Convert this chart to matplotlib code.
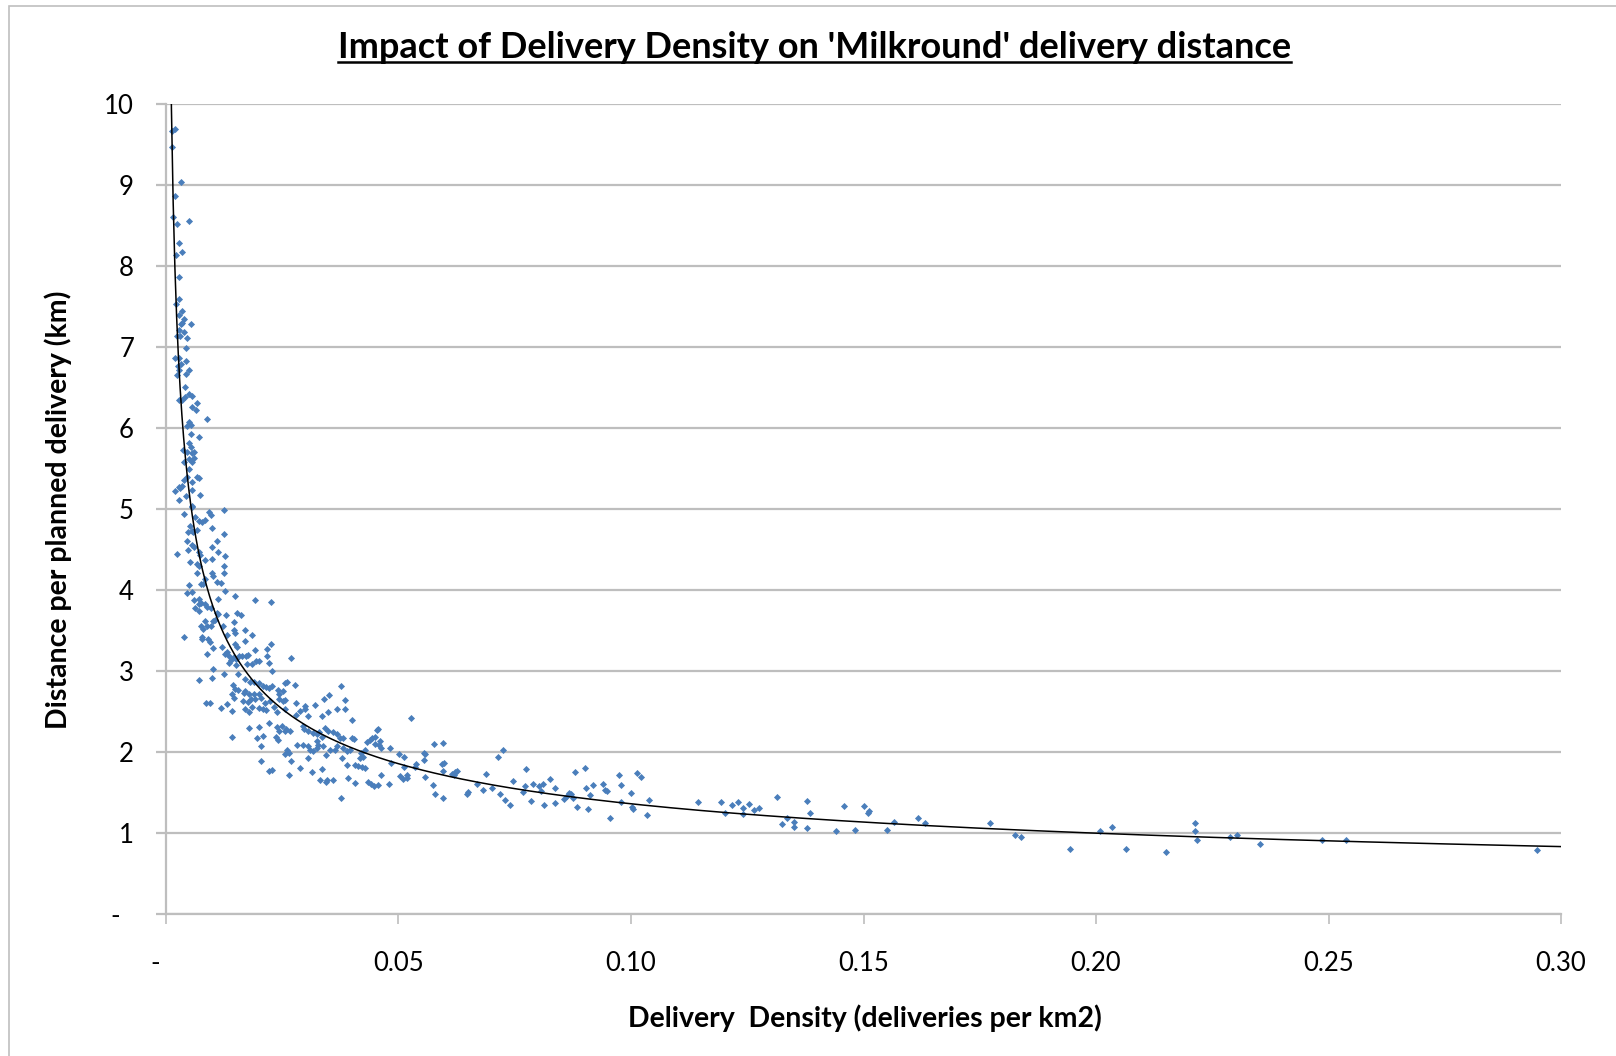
import numpy as np
import matplotlib
matplotlib.use("Agg")
import matplotlib.pyplot as plt
from matplotlib.lines import Line2D
from matplotlib.patches import Rectangle

plt.rcParams['font.family'] = ['Lato', 'DejaVu Sans']

# points: (deliveries per km2, km per planned delivery)
points = [
    # steep part, x < 0.01
    (.0014, 9.67), (.0020, 9.69), (.0012, 9.47), (.0032, 9.04), (.0020, 8.87), (.0016, 8.61),
    (.0023, 8.52), (.0049, 8.55), (.0027, 8.28), (.0035, 8.17), (.0022, 8.13), (.0029, 7.86),
    (.0029, 7.59), (.0022, 7.53), (.0034, 7.45), (.0029, 7.39), (.0039, 7.34), (.0035, 7.30),
    (.0032, 7.29), (.0054, 7.28), (.0027, 7.21), (.0039, 7.18), (.0023, 7.14), (.0030, 7.13),
    (.0046, 7.11), (.0043, 6.99), (.0019, 6.86), (.0029, 6.86), (.0043, 6.83), (.0026, 6.76),
    (.0032, 6.79), (.0027, 6.71), (.0050, 6.71), (.0043, 6.67), (.0024, 6.65), (.0040, 6.51),
    (.0049, 6.42), (.0056, 6.39), (.0027, 6.35), (.0034, 6.35), (.0040, 6.38), (.0067, 6.31),
    (.0057, 6.26), (.0065, 6.22), (.0089, 6.11),
    (.0050, 6.07), (.0053, 6.04), (.0046, 6.02), (.0053, 5.93), (.0070, 5.89), (.0050, 5.81),
    (.0053, 5.77), (.0036, 5.73), (.0046, 5.70), (.0056, 5.69), (.0060, 5.70), (.0038, 5.58),
    (.0050, 5.62), (.0061, 5.63), (.0057, 5.58), (.0049, 5.49), (.0045, 5.40), (.0038, 5.36),
    (.0066, 5.40), (.0071, 5.38), (.0034, 5.29), (.0030, 5.26), (.0020, 5.22), (.0027, 5.27),
    (.0057, 5.33), (.0055, 5.24), (.0044, 5.16), (.0029, 5.11), (.0073, 5.17), (.0055, 5.03),
    (.0057, 5.04), (.0039, 4.94), (.0125, 4.99), (.0096, 4.93), (.0093, 4.96), (.0063, 4.90),
    (.0070, 4.85), (.0077, 4.84), (.0084, 4.86), (.0051, 4.79), (.0055, 4.73), (.0048, 4.72),
    (.0059, 4.71), (.0099, 4.76), (.0066, 4.74), (.0125, 4.69), (.0045, 4.60), (.0055, 4.55),
    (.0060, 4.53), (.0109, 4.61), (.0099, 4.53), (.0111, 4.47), (.0023, 4.45), (.0048, 4.49),
    (.0071, 4.47), (.0073, 4.43), (.0126, 4.42), (.0051, 4.34), (.0084, 4.37), (.0098, 4.38),
    (.0066, 4.32), (.0071, 4.29), (.0125, 4.29), (.0125, 4.21), (.0098, 4.21), (.0102, 4.17),
    (.0066, 4.21), (.0076, 4.07), (.0080, 4.08), (.0085, 4.13), (.0109, 4.10), (.0118, 4.09),
    (.0049, 4.06), (.0046, 3.96), (.0057, 3.97), (.0126, 3.99), (.0060, 3.88), (.0070, 3.89),
    (.0071, 3.83), (.0076, 3.84), (.0149, 3.92), (.0192, 3.88), (.0226, 3.85), (.0063, 3.78),
    (.0071, 3.74), (.0085, 3.83), (.0089, 3.79), (.0097, 3.78), (.0112, 3.89), (.0109, 3.72),
    (.0111, 3.70), (.0153, 3.72), (.0161, 3.69), (.0130, 3.69), (.0083, 3.62), (.0101, 3.62),
    (.0105, 3.63), (.0146, 3.61), (.0076, 3.55), (.0080, 3.52), (.0089, 3.55), (.0096, 3.55),
    (.0122, 3.56), (.0169, 3.51), (.0146, 3.50), (.0148, 3.47), (.0131, 3.45), (.0078, 3.42),
    (.0077, 3.40), (.0039, 3.42), (.0185, 3.44), (.0091, 3.40), (.0094, 3.36), (.0102, 3.28),
    (.0120, 3.30), (.0131, 3.23), (.0149, 3.33), (.0153, 3.29), (.0169, 3.37), (.0088, 3.21),
    (.0127, 3.21), (.0135, 3.18), (.0139, 3.14), (.0136, 3.10), (.0147, 3.17), (.0151, 3.15),
    (.0158, 3.18), (.0163, 3.18), (.0173, 3.18), (.0177, 3.20), (.0191, 3.26), (.0218, 3.27),
    (.0225, 3.33), (.0269, 3.16), (.0174, 3.09), (.0185, 3.09), (.0193, 3.12), (.0201, 3.12),
    (.0218, 3.18), (.0221, 3.10), (.0150, 3.07), (.0102, 3.03), (.0228, 3.00), (.0100, 2.91),
    (.0125, 2.96), (.0071, 2.89), (.0155, 2.96), (.0171, 2.90), (.0181, 2.86), (.0189, 2.86),
    (.0145, 2.83), (.0148, 2.78), (.0154, 2.77), (.0199, 2.85), (.0209, 2.82), (.0215, 2.80),
    (.0222, 2.79), (.0228, 2.82), (.0257, 2.85), (.0261, 2.87), (.0277, 2.83), (.0167, 2.73),
    (.0171, 2.75), (.0178, 2.71), (.0190, 2.72), (.0199, 2.72), (.0241, 2.77), (.0243, 2.72),
    (.0251, 2.75), (.0143, 2.71), (.0147, 2.67), (.0087, 2.61), (.0094, 2.61), (.0166, 2.63),
    (.0177, 2.62), (.0182, 2.65), (.0191, 2.65), (.0205, 2.67), (.0213, 2.61), (.0223, 2.63),
    (.0243, 2.66), (.0251, 2.63), (.0255, 2.64), (.0279, 2.60), (.0300, 2.57), (.0320, 2.58),
    (.0340, 2.65), (.0350, 2.70), (.0376, 2.81), (.0386, 2.64), (.0386, 2.53), (.0118, 2.54),
    (.0131, 2.59), (.0141, 2.50), (.0171, 2.53), (.0178, 2.49), (.0186, 2.56), (.0199, 2.54),
    (.0209, 2.53), (.0215, 2.52), (.0233, 2.56), (.0239, 2.49), (.0256, 2.53), (.0280, 2.46),
    (.0289, 2.50), (.0298, 2.53), (.0306, 2.45), (.0335, 2.44), (.0349, 2.49), (.0367, 2.53),
    # 0.015 - 0.03 below 2.4
    (.0179, 2.30), (.0201, 2.31), (.0222, 2.36), (.0143, 2.19), (.0196, 2.17), (.0209, 2.20),
    (.0239, 2.31), (.0249, 2.32), (.0244, 2.26), (.0255, 2.26), (.0267, 2.26), (.0258, 2.28),
    (.0237, 2.19), (.0240, 2.15), (.0204, 2.07), (.0281, 2.09), (.0261, 2.03), (.0265, 1.99),
    (.0257, 1.97), (.0204, 1.89), (.0269, 1.89), (.0222, 1.77), (.0229, 1.78), (.0264, 1.71),
    # 0.03 - 0.12
    (.0297, 2.28), (.0305, 2.26), (.0294, 2.32), (.0317, 2.24), (.0324, 2.22), (.0330, 2.25),
    (.0335, 2.19), (.0325, 2.14), (.0343, 2.29), (.0348, 2.26), (.0360, 2.25), (.0367, 2.22),
    (.0374, 2.17), (.0381, 2.17), (.0295, 2.08), (.0305, 2.07), (.0310, 2.03), (.0317, 2.01),
    (.0324, 2.05), (.0328, 2.08), (.0338, 2.07), (.0345, 1.96), (.0353, 2.03), (.0364, 2.03),
    (.0368, 2.07), (.0380, 2.05), (.0389, 2.01), (.0396, 2.03), (.0288, 1.80), (.0305, 1.93),
    (.0314, 1.75), (.0335, 1.79), (.0331, 1.66), (.0344, 1.63), (.0347, 1.65), (.0360, 1.66),
    (.0376, 1.43), (.0378, 1.92), (.0389, 1.84), (.0391, 1.68), (.0406, 1.62),
    (.0401, 2.39), (.0401, 2.17), (.0404, 2.16), (.0420, 1.99), (.0417, 1.92), (.0424, 1.94),
    (.0427, 2.02), (.0432, 2.12), (.0439, 2.15), (.0442, 2.17), (.0453, 2.27), (.0456, 2.28),
    (.0450, 2.18), (.0407, 1.84), (.0414, 1.83), (.0422, 1.81), (.0428, 1.80), (.0434, 1.63),
    (.0440, 1.61), (.0447, 1.58), (.0457, 1.59), (.0463, 1.71), (.0450, 2.10), (.0459, 2.09),
    (.0463, 2.05), (.0460, 2.13), (.0482, 2.05), (.0479, 1.61), (.0502, 1.98), (.0512, 1.94),
    (.0503, 1.70), (.0510, 1.67), (.0518, 1.68), (.0519, 1.71), (.0483, 1.87), (.0512, 1.81),
    (.0527, 2.42), (.0538, 1.85), (.0536, 1.81), (.0554, 1.99), (.0558, 1.97), (.0555, 1.90),
    (.0558, 1.69), (.0575, 1.59), (.0579, 1.48), (.0576, 2.10), (.0595, 2.11), (.0594, 1.85),
    (.0598, 1.86), (.0596, 1.76), (.0595, 1.43), (.0615, 1.73), (.0622, 1.75), (.0625, 1.76),
    (.0619, 1.71), (.0647, 1.48), (.0649, 1.50), (.0669, 1.61), (.0682, 1.53), (.0689, 1.73),
    (.0701, 1.56), (.0715, 1.94), (.0725, 2.03), (.0718, 1.48), (.0730, 1.41), (.0740, 1.34),
    (.0747, 1.64), (.0767, 1.50), (.0775, 1.79), (.0773, 1.58), (.0786, 1.39), (.0790, 1.60),
    (.0803, 1.58), (.0806, 1.52), (.0811, 1.61), (.0814, 1.35), (.0826, 1.67), (.0837, 1.55),
    (.0837, 1.37), (.0857, 1.42), (.0862, 1.46), (.0866, 1.49), (.0872, 1.48), (.0876, 1.43),
    (.0879, 1.75), (.0883, 1.32), (.0902, 1.80), (.0903, 1.55), (.0908, 1.29), (.0912, 1.47),
    (.0918, 1.59), (.0939, 1.60), (.0945, 1.53), (.0948, 1.52), (.0955, 1.19), (.0974, 1.71),
    (.0978, 1.59), (.0979, 1.38), (.0999, 1.49), (.1002, 1.32), (.1005, 1.30), (.1012, 1.74),
    (.1022, 1.69), (.1034, 1.22), (.1039, 1.41), (.1145, 1.38),
    # sparse tail
    (.1194, 1.38), (.1202, 1.25), (.1218, 1.34), (.1231, 1.38), (.1241, 1.31), (.1241, 1.23),
    (.1254, 1.36), (.1265, 1.28), (.1275, 1.31), (.1314, 1.45), (.1335, 1.19), (.1324, 1.11),
    (.1350, 1.14), (.1350, 1.07), (.1379, 1.40), (.1386, 1.25), (.1379, 1.06), (.1441, 1.03),
    (.1457, 1.33), (.1481, 1.04), (.1502, 1.33), (.1509, 1.25), (.1512, 1.27), (.1551, 1.04),
    (.1566, 1.13), (.1618, 1.19), (.1632, 1.12), (.1772, 1.12), (.1826, 0.98), (.1839, 0.95),
    (.1943, 0.80), (.2008, 1.03), (.2034, 1.07), (.2065, 0.80), (.2151, 0.77), (.2213, 1.12),
    (.2213, 1.03), (.2218, 0.91), (.2289, 0.95), (.2304, 0.97), (.2353, 0.87), (.2486, 0.91),
    (.2538, 0.91), (.2949, 0.79),
]
density = np.array([p[0] for p in points])
distance = np.array([p[1] for p in points])

x_ticks = [0, 0.05, 0.10, 0.15, 0.20, 0.25, 0.30]
x_labels = ['-   ', '0.05', '0.10', '0.15', '0.20', '0.25', '0.30']
y_ticks = list(range(0, 11))
y_labels = ['-  '] + [str(v) for v in range(1, 11)]

title = "Impact of Delivery Density on 'Milkround' delivery distance"
xlabel = "Delivery  Density (deliveries per km2)"
ylabel = "Distance per planned delivery (km)"

grid_c = '#BEBEBE'
blue = '#4A7EBB'

fig = plt.figure(figsize=(16.16, 10.56), dpi=100)
ax = fig.add_axes([0.1027, 0.1345, 0.8633, 0.767])

# outer chart frame
fig.patches.append(Rectangle((0.0055, -0.02), 1.1, 1.0145, transform=fig.transFigure,
                             fill=False, edgecolor='#BFBFBF', linewidth=1.2))

ax.scatter(density, distance, marker='D', s=13, color=blue, linewidths=0, zorder=3)

# power trendline, fitted like Excel does (log-log least squares)
b, ln_a = np.polyfit(np.log(density), np.log(distance), 1)
xs = np.linspace(0.0008, 0.30, 800)
ax.plot(xs, np.exp(ln_a) * xs ** b, color='black', linewidth=1.1, zorder=4)

ax.set_xlim(0, 0.30)
ax.set_ylim(0, 10)
ax.set_xticks(x_ticks)
ax.set_xticklabels(x_labels)
ax.set_yticks(y_ticks)
ax.set_yticklabels(y_labels)

ax.yaxis.grid(True, color=grid_c, linewidth=1.6)
ax.set_axisbelow(True)
for s in ['top', 'right']:
    ax.spines[s].set_visible(False)
for s in ['left', 'bottom']:
    ax.spines[s].set_color(grid_c)
    ax.spines[s].set_linewidth(1.6)

ax.tick_params(axis='y', direction='out', length=7, width=1.6, color=grid_c,
               labelsize=18.5, pad=16)
ax.tick_params(axis='x', direction='out', length=7, width=1.2, color=grid_c,
               labelsize=18.5, pad=20)

t = fig.text(0.504, 0.955, title, ha='center', va='center', fontsize=26, fontweight='bold')
fig.text(0.535, 0.036, xlabel, ha='center', va='center', fontsize=20.5, fontweight='bold')
fig.text(0.036, 0.517, ylabel, ha='center', va='center', fontsize=20.5, fontweight='bold',
         rotation=90)

# underline the title
fig.canvas.draw()
bb = t.get_window_extent().transformed(fig.transFigure.inverted())
fig.add_artist(Line2D([bb.x0, bb.x1], [bb.y0 + 0.002, bb.y0 + 0.002], transform=fig.transFigure,
                      color='black', linewidth=1.8))

fig.savefig('out.png', dpi=100)
